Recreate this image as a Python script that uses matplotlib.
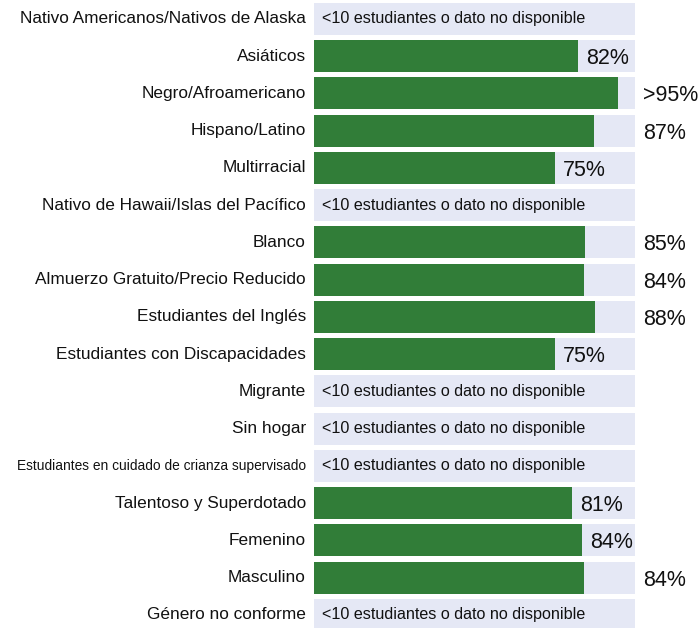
import matplotlib
matplotlib.use("Agg")
import matplotlib.pyplot as plt

plt.rcParams["font.family"] = ["Liberation Sans", "DejaVu Sans"]

categories = [
    "Nativo Americanos/Nativos de Alaska",
    "Asiáticos",
    "Negro/Afroamericano",
    "Hispano/Latino",
    "Multirracial",
    "Nativo de Hawaii/Islas del Pacífico",
    "Blanco",
    "Almuerzo Gratuito/Precio Reducido",
    "Estudiantes del Inglés",
    "Estudiantes con Discapacidades",
    "Migrante",
    "Sin hogar",
    "Estudiantes en cuidado de crianza supervisado",
    "Talentoso y Superdotado",
    "Femenino",
    "Masculino",
    "Género no conforme",
]
# None = fewer than 10 students / no data
values = [None, 0.822, 0.948, 0.871, 0.75, None, 0.845, 0.842, 0.875,
          0.75, None, None, None, 0.805, 0.836, 0.842, None]
value_labels = [None, "82%", ">95%", "87%", "75%", None, "85%", "84%", "88%",
                "75%", None, None, None, "81%", "84%", "84%", None]
missing_text = "<10 estudiantes o dato no disponible"

GREEN = "#317D38"
BG = "#E5E8F5"

W, H = 698, 628
fig = plt.figure(figsize=(W / 100, H / 100), dpi=100)
ax = fig.add_axes([314 / W, -5.6 / H, 321 / W, 633.4 / H])
ax.set_xlim(0, 1)
ax.set_ylim(len(categories) - 0.5, -0.5)
ax.axis("off")

fig.canvas.draw()
renderer = fig.canvas.get_renderer()
inv = ax.transData.inverted()

for i, (cat, v, lab) in enumerate(zip(categories, values, value_labels)):
    ax.barh(i, 1.0, height=0.86, color=BG, zorder=1)
    small = cat.startswith("Estudiantes en cuidado")
    ax.text(-0.025, i, cat, ha="right", va="center",
            fontsize=9.9 if small else 12.45, color="#111111",
            clip_on=False)
    if v is None:
        ax.text(0.025, i, missing_text, ha="left", va="center",
                fontsize=11.6, color="#111111", zorder=3)
        continue
    ax.barh(i, v, height=0.86, color=GREEN, zorder=2)
    t = ax.text(v + 0.025, i, lab, ha="left", va="center_baseline",
                fontsize=15.5, color="#111111", zorder=3, clip_on=False)
    # label goes outside the track when it doesn't fit after the bar
    bb = t.get_window_extent(renderer=renderer)
    x_end = inv.transform((bb.x1, bb.y0))[0]
    if x_end > 0.996:
        t.set_x(1.025)

fig.savefig("out.png", dpi=100)
